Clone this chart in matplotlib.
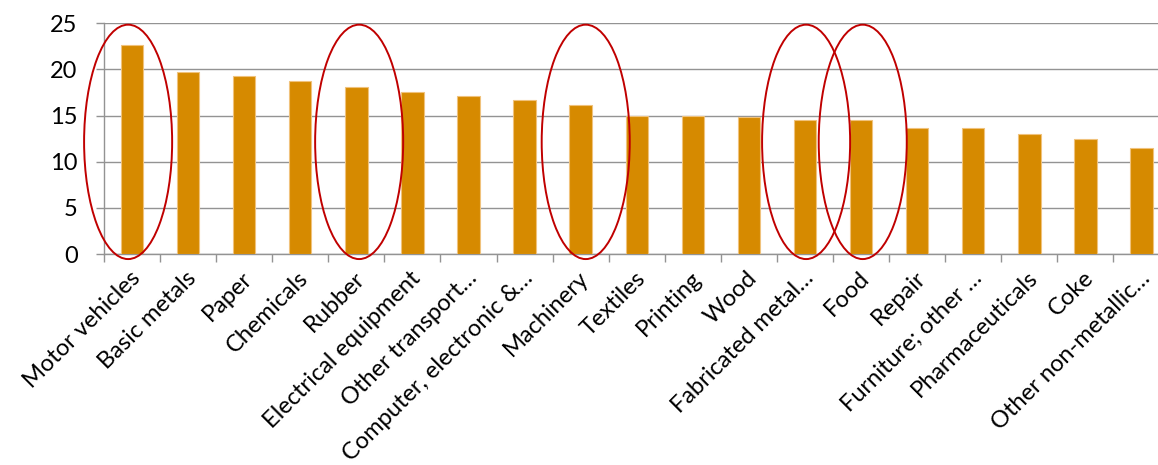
import numpy as np
import matplotlib
matplotlib.use("Agg")
import matplotlib.pyplot as plt
import matplotlib.transforms as mtransforms
from matplotlib.patches import Ellipse
from matplotlib.ticker import FixedLocator

# Sectors, sorted by value
sectors = ["Motor vehicles", "Basic metals", "Paper", "Chemicals", "Rubber",
           "Electrical equipment", "Other transport\u2026", "Computer, electronic &\u2026",
           "Machinery", "Textiles", "Printing", "Wood", "Fabricated metal\u2026",
           "Food", "Repair", "Furniture; other \u2026", "Pharmaceuticals", "Coke",
           "Other non-metallic\u2026"]
values = [22.6, 19.7, 19.3, 18.8, 18.1, 17.6, 17.1, 16.7, 16.2, 15.0, 15.0,
          14.8, 14.5, 14.5, 13.7, 13.6, 13.0, 12.5, 11.5]

# Sectors circled in red
circled = ["Motor vehicles", "Rubber", "Machinery", "Fabricated metal\u2026", "Food"]

BAR_COLOR = "#D68A00"
GRID_COLOR = "#939393"
RING_COLOR = "#C00000"

plt.rcParams["font.family"] = ["Lato", "DejaVu Sans"]

fig = plt.figure(figsize=(11.58, 4.65), dpi=100)
ax = fig.add_axes([104 / 1158, 211 / 465, 1065.5 / 1158, 230.7 / 465])

x = np.arange(len(sectors))
ax.bar(x, values, width=0.4, color=BAR_COLOR, edgecolor="#F0C27C",
       linewidth=0.8, zorder=3)

ax.set_xlim(-0.5, len(sectors) - 0.5)
ax.set_ylim(0, 25)
ax.set_yticks(np.arange(0, 26, 5))
ax.yaxis.grid(True, color=GRID_COLOR, linewidth=1.0, zorder=0)
ax.set_axisbelow(True)

for side in ["top", "right"]:
    ax.spines[side].set_visible(False)
for side in ["left", "bottom"]:
    ax.spines[side].set_color(GRID_COLOR)
    ax.spines[side].set_linewidth(1.0)

ax.tick_params(axis="y", length=6, width=1.0, color=GRID_COLOR,
               labelsize=17, pad=13)

# category boundaries get the tick marks, labels sit at the centres
ax.set_xticks(x)
ax.xaxis.set_minor_locator(FixedLocator(np.arange(-0.5, len(sectors), 1.0)))
ax.tick_params(axis="x", which="major", length=0, pad=15)
ax.tick_params(axis="x", which="minor", length=6, width=1.0, color=GRID_COLOR)
ax.set_xticklabels(sectors, rotation=45, ha="right", va="center",
                   rotation_mode="anchor", fontsize=17)

# nudge the slanted labels a little to the right
shift = mtransforms.ScaledTranslation(5 / 100, 0, fig.dpi_scale_trans)
for lbl in ax.get_xticklabels():
    lbl.set_transform(lbl.get_transform() + shift)

# red rings around the highlighted sectors
nudges = [-0.07, 0.05, 0.09, 0.02, 0.03]
for name, dx in zip(circled, nudges):
    i = sectors.index(name)
    ring = Ellipse((i + dx, 12.15), width=1.57, height=25.4, fill=False,
                   edgecolor=RING_COLOR, linewidth=1.4, zorder=4, clip_on=False)
    ax.add_patch(ring)

fig.savefig("out.png", dpi=100)
